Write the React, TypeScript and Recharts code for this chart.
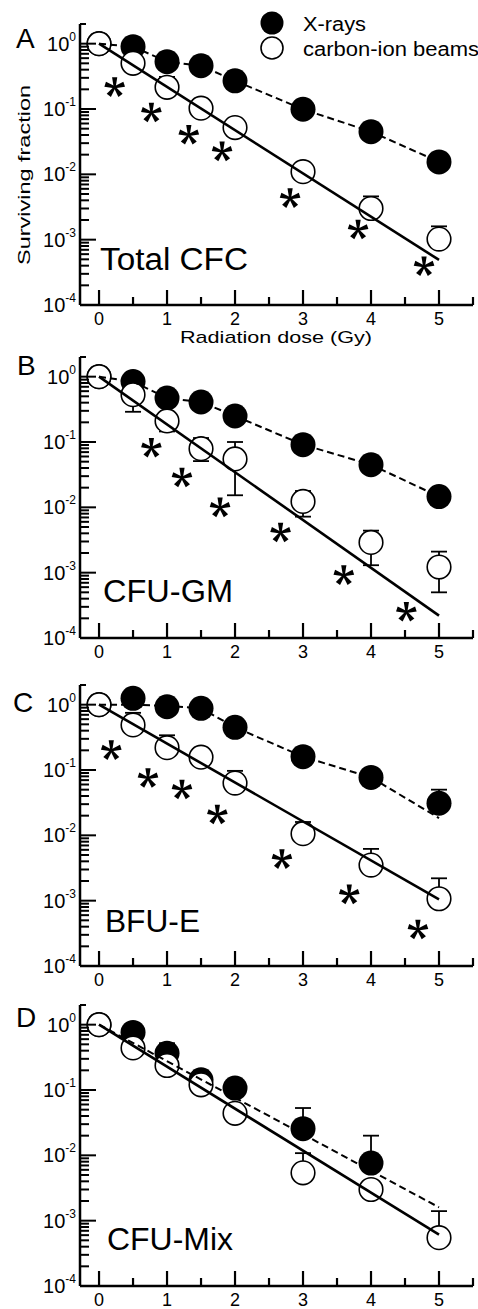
import React from 'react';
import { ComposedChart, Scatter, Line, XAxis, YAxis } from 'recharts';

const FONT = '"Liberation Sans", Arial, Helvetica, sans-serif';
const W = 478;
const H = 345;
const PLOT_LEFT = 80;
const PLOT_BOTTOM = 301;

// radiation dose (Gy)
const doses = [0, 0.5, 1, 1.5, 2, 3, 4, 5];
const dosesD = [0, 0.5, 1, 1.5, 2, 3, 4];
const fitEnds = [0, 5];

const xTicks = [0, 0.5, 1, 1.5, 2, 2.5, 3, 3.5, 4, 4.5, 5, 5.5];
const decades = [1e-4, 1e-3, 1e-2, 1e-1, 1];
const minorSteps = [2, 3, 4, 5, 6, 7, 8, 9];
const yTicks = [
  ...decades,
  ...decades.slice(0, 4).flatMap((d) => minorSteps.map((m) => m * d)),
  2,
];

// A - Total CFC
const xrayA = [1.0, 0.9, 0.53, 0.46, 0.27, 0.099, 0.045, 0.0155];
const carbonA = [1.0, 0.5, 0.215, 0.103, 0.052, 0.011, 0.003, 0.00102];
const carbonHighA = [1.0, 0.73, 0.31, 0.138, 0.052, 0.0143, 0.0046, 0.0016];
const starXA = [0.23, 0.77, 1.32, 1.81, 2.81, 3.81, 4.78];
const starYA = [0.215, 0.088, 0.04, 0.0223, 0.0043, 0.00142, 0.00039];
const xrayFitA = [1.0, 0.9, 0.53, 0.46, 0.27, 0.099, 0.045, 0.0155];
const carbonFitA = [1.0, 0.00049];

// B - CFU-GM
const xrayB = [1.0, 0.84, 0.47, 0.41, 0.25, 0.091, 0.045, 0.0146];
const carbonB = [1.0, 0.53, 0.21, 0.079, 0.055, 0.0123, 0.0029, 0.00122];
const carbonHighB = [1.0, 0.53, 0.27, 0.115, 0.1, 0.0178, 0.0044, 0.0021];
const carbonLowB = [1.0, 0.29, 0.145, 0.051, 0.0153, 0.0072, 0.0013, 0.0005];
const starXB = [0.77, 1.22, 1.78, 2.67, 3.6, 4.52];
const starYB = [0.081, 0.0284, 0.0099, 0.0041, 0.00091, 0.00025];
const xrayFitB = [1.0, 0.84, 0.47, 0.41, 0.25, 0.091, 0.045, 0.0146];
const carbonFitB = [1.0, 0.00022];

// C - BFU-E
const xrayC = [1.0, 1.25, 0.93, 0.88, 0.45, 0.16, 0.077, 0.031];
const xrayHighC = [1.0, 1.25, 0.93, 0.88, 0.45, 0.16, 0.077, 0.05];
const carbonC = [1.0, 0.49, 0.22, 0.157, 0.063, 0.0106, 0.0035, 0.00107];
const carbonHighC = [1.0, 0.75, 0.34, 0.157, 0.097, 0.016, 0.0062, 0.0022];
const starXC = [0.18, 0.72, 1.22, 1.74, 2.69, 3.68, 4.69];
const starYC = [0.2, 0.075, 0.05, 0.0207, 0.0043, 0.00124, 0.00036];
const xrayFitC = [1.0, 1.0, 0.96, 0.88, 0.45, 0.16, 0.077, 0.0184];
const carbonFitC = [1.0, 0.00105];

// D - CFU-Mix
const xrayD = [1.0, 0.76, 0.365, 0.143, 0.107, 0.0256, 0.0076];
const xrayHighD = [1.0, 0.76, 0.52, 0.196, 0.107, 0.053, 0.02];
const carbonD = [1.0, 0.44, 0.237, 0.12, 0.044, 0.0054, 0.003, 0.00055];
const carbonHighD = [1.0, 0.44, 0.237, 0.12, 0.044, 0.0108, 0.003, 0.0014];
const xrayFitD = [1.0, 0.0016];
const carbonFitD = [1.0, 0.00061];

type Pt = { x: number; y: number | null };
type Series = { pts: Pt[]; stems: Pt[]; caps: Pt[] };

const points = (xs: number[], ys: number[]): Pt[] => xs.map((x, i) => ({ x, y: ys[i] }));

// markers plus error bars (stem segments split by null gaps, caps at the ends)
function series(xs: number[], ys: number[], lows?: number[], highs?: number[]): Series {
  const stems: Pt[] = [];
  const caps: Pt[] = [];
  xs.forEach((x, i) => {
    const y = ys[i];
    if (highs && highs[i] > y) {
      stems.push({ x, y }, { x, y: highs[i] }, { x, y: null });
      caps.push({ x, y: highs[i] });
    }
    if (lows && lows[i] < y) {
      stems.push({ x, y }, { x, y: lows[i] }, { x, y: null });
      caps.push({ x, y: lows[i] });
    }
  });
  return { pts: points(xs, ys), stems, caps };
}

// stacking order (recharts 3 zIndex)
const z = (n: number) => ({ zIndex: n } as any);

const XTick = (props: any) => {
  const { x, payload } = props;
  const v = payload.value as number;
  const major = Number.isInteger(v);
  return (
    <g>
      <line x1={x} x2={x} y1={PLOT_BOTTOM} y2={PLOT_BOTTOM - (major ? 15 : 8)} stroke="#000" strokeWidth={2.2} />
      {major && (
        <text x={x} y={PLOT_BOTTOM + 20} textAnchor="middle" fontSize={18} fontFamily={FONT} fill="#000">
          {v}
        </text>
      )}
    </g>
  );
};

const YTick = (props: any) => {
  const { y, payload } = props;
  const v = payload.value as number;
  const e = Math.round(Math.log10(v));
  const major = Math.abs(Math.log10(v) - e) < 1e-6;
  const len = major ? 16 : v === 2 ? 6 : 9;
  return (
    <g>
      <line x1={PLOT_LEFT} x2={PLOT_LEFT + len} y1={y} y2={y} stroke="#000" strokeWidth={2} />
      {major && (
        <text x={76} y={y + 7} textAnchor="end" fontSize={20} fontFamily={FONT} fill="#000">
          <tspan>10</tspan>
          <tspan dy={-10} fontSize={12}>{String(e)}</tspan>
        </text>
      )}
    </g>
  );
};

const FilledDot = (p: any) => <circle key={p.index} cx={p.cx} cy={p.cy} r={12.5} fill="#000" />;
const OpenDot = (p: any) => (
  <circle key={p.index} cx={p.cx} cy={p.cy} r={11.8} fill="#fff" stroke="#000" strokeWidth={1.6} />
);
const Cap = (p: any) => (
  <line x1={p.cx - 8} x2={p.cx + 8} y1={p.cy} y2={p.cy} stroke="#000" strokeWidth={1.8} />
);

const STAR_ANGLES = [0, 72, 144, 216, 288];
const Asterisk = (p: any) => {
  const { cx, cy } = p;
  return (
    <g>
      {STAR_ANGLES.map((a) => {
        const r = (a * Math.PI) / 180;
        const dx = Math.sin(r);
        const dy = -Math.cos(r);
        const px = -dy;
        const py = dx;
        const L = 10;
        const pts = [
          [cx + px * 1, cy + py * 1],
          [cx + dx * L + px * 2.6, cy + dy * L + py * 2.6],
          [cx + dx * L - px * 2.6, cy + dy * L - py * 2.6],
          [cx - px * 1, cy - py * 1],
        ]
          .map((q) => q.join(','))
          .join(' ');
        return <polygon key={a} points={pts} fill="#000" />;
      })}
    </g>
  );
};

type PanelProps = {
  top: number;
  letter: string;
  letterX: number;
  letterY: number;
  label: string;
  labelX: number;
  labelY: number;
  labelLen: number;
  xray: Series;
  carbon: Series;
  stars: Pt[];
  xrayFit: Pt[];
  carbonFit: Pt[];
  first?: boolean;
};

function Panel(p: PanelProps) {
  const stemLine = (data: Pt[], key: string) => (
    <Line
      key={key}
      data={data}
      dataKey="y"
      type="linear"
      stroke="#000"
      strokeWidth={1.8}
      connectNulls={false}
      dot={false}
      activeDot={false}
      isAnimationActive={false}
      {...z(300)}
    />
  );
  return (
    <div style={{ position: 'absolute', left: 0, top: p.top, width: W, height: H }}>
      <ComposedChart width={W} height={H} margin={{ top: 20, right: 5, bottom: 14, left: 0 }}>
        <XAxis
          type="number"
          dataKey="x"
          domain={[-0.28, 5.5]}
          allowDataOverflow
          ticks={xTicks}
          interval={0}
          tick={<XTick />}
          tickLine={false}
          tickSize={0}
          tickMargin={0}
          height={30}
          axisLine={{ stroke: '#000', strokeWidth: 2.5 }}
        />
        <YAxis
          type="number"
          dataKey="y"
          scale="log"
          domain={[1e-4, 2]}
          allowDataOverflow
          ticks={yTicks}
          interval={0}
          tick={<YTick />}
          tickLine={false}
          tickSize={0}
          tickMargin={0}
          width={80}
          axisLine={{ stroke: '#000', strokeWidth: 2.5 }}
        />
        {stemLine(p.xray.stems, 'xs')}
        {stemLine(p.carbon.stems, 'cs')}
        <Scatter
          data={[...p.xray.caps, ...p.carbon.caps]}
          dataKey="y"
          shape={Cap}
          isAnimationActive={false}
          {...z(300)}
        />
        {p.stars.length > 0 && (
          <Scatter data={p.stars} dataKey="y" shape={Asterisk} isAnimationActive={false} />
        )}
        <Line
          data={p.xray.pts}
          dataKey="y"
          stroke="none"
          dot={FilledDot}
          activeDot={false}
          isAnimationActive={false}
          {...z(800)}
        />
        <Line
          data={p.carbon.pts}
          dataKey="y"
          stroke="none"
          dot={OpenDot}
          activeDot={false}
          isAnimationActive={false}
          {...z(810)}
        />
        <Line
          data={p.xrayFit}
          dataKey="y"
          type="linear"
          stroke="#000"
          strokeWidth={2}
          strokeDasharray="7 4"
          dot={false}
          activeDot={false}
          isAnimationActive={false}
          {...z(900)}
        />
        <Line
          data={p.carbonFit}
          dataKey="y"
          type="linear"
          stroke="#000"
          strokeWidth={2.6}
          dot={false}
          activeDot={false}
          isAnimationActive={false}
          {...z(900)}
        />
      </ComposedChart>
      <svg
        width={W}
        height={H}
        style={{ position: 'absolute', left: 0, top: 0, pointerEvents: 'none' }}
        fontFamily={FONT}
      >
        <text x={p.letterX} y={p.letterY} fontSize={28} fill="#000">
          {p.letter}
        </text>
        <text
          x={p.labelX}
          y={p.labelY}
          fontSize={31}
          fill="#000"
          textLength={p.labelLen}
          lengthAdjust="spacingAndGlyphs"
        >
          {p.label}
        </text>
        {p.first && (
          <g>
            <circle cx={272} cy={19} r={11.5} fill="#000" />
            <circle cx={272} cy={44} r={11} fill="#fff" stroke="#000" strokeWidth={1.6} />
            <text x={303} y={27} fontSize={20} fill="#000" textLength={63} lengthAdjust="spacingAndGlyphs">
              X-rays
            </text>
            <text x={303} y={52} fontSize={20} fill="#000" textLength={176} lengthAdjust="spacingAndGlyphs">
              carbon-ion beams
            </text>
            <text
              x={276}
              y={339}
              fontSize={17}
              textAnchor="middle"
              fill="#000"
              textLength={192}
              lengthAdjust="spacingAndGlyphs"
            >
              Radiation dose (Gy)
            </text>
            <text
              x={30}
              y={171}
              fontSize={17}
              textAnchor="middle"
              fill="#000"
              transform="rotate(-90, 30, 171)"
              textLength={180}
              lengthAdjust="spacingAndGlyphs"
            >
              Surviving fraction
            </text>
          </g>
        )}
      </svg>
    </div>
  );
}

export default function App() {
  return (
    <div
      style={{
        position: 'absolute',
        left: 0,
        top: 0,
        width: W,
        height: 1309,
        overflow: 'hidden',
        background: '#fff',
      }}
    >
      <Panel
        top={4}
        letter="A"
        letterX={16}
        letterY={44}
        label="Total CFC"
        labelX={100}
        labelY={266}
        labelLen={148}
        xray={series(doses, xrayA)}
        carbon={series(doses, carbonA, undefined, carbonHighA)}
        stars={points(starXA, starYA)}
        xrayFit={points(doses, xrayFitA)}
        carbonFit={points(fitEnds, carbonFitA)}
        first
      />
      <Panel
        top={337}
        letter="B"
        letterX={17}
        letterY={38}
        label="CFU-GM"
        labelX={103}
        labelY={265}
        labelLen={130}
        xray={series(doses, xrayB)}
        carbon={series(doses, carbonB, carbonLowB, carbonHighB)}
        stars={points(starXB, starYB)}
        xrayFit={points(doses, xrayFitB)}
        carbonFit={points(fitEnds, carbonFitB)}
      />
      <Panel
        top={665}
        letter="C"
        letterX={13}
        letterY={47}
        label="BFU-E"
        labelX={105}
        labelY={267}
        labelLen={95}
        xray={series(doses, xrayC, undefined, xrayHighC)}
        carbon={series(doses, carbonC, undefined, carbonHighC)}
        stars={points(starXC, starYC)}
        xrayFit={points(doses, xrayFitC)}
        carbonFit={points(fitEnds, carbonFitC)}
      />
      <Panel
        top={985}
        letter="D"
        letterX={16}
        letterY={42}
        label="CFU-Mix"
        labelX={107}
        labelY={265}
        labelLen={126}
        xray={series(dosesD, xrayD, undefined, xrayHighD)}
        carbon={series(doses, carbonD, undefined, carbonHighD)}
        stars={[]}
        xrayFit={points(fitEnds, xrayFitD)}
        carbonFit={points(fitEnds, carbonFitD)}
      />
    </div>
  );
}
